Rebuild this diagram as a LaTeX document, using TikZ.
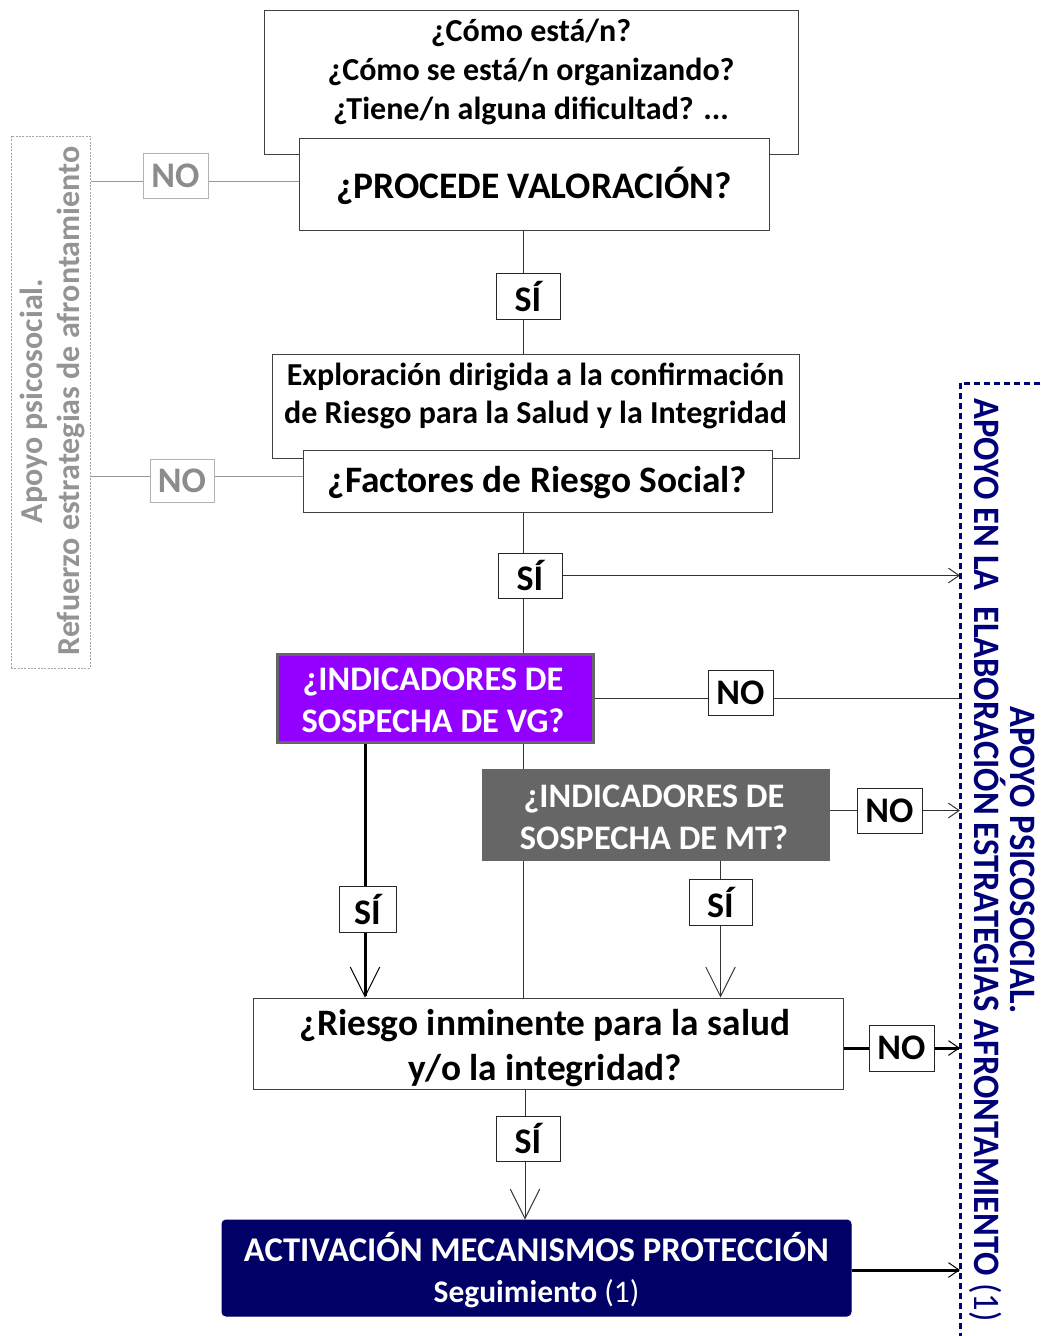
\documentclass[tikz,border=0pt]{standalone}
\usepackage{fontspec}
\setmainfont{Carlito}
\usepackage{graphicx}
\usetikzlibrary{arrows.meta,backgrounds}
\definecolor{navy}{RGB}{0,0,102}
\definecolor{navyt}{RGB}{0,0,120}
\definecolor{vgpurple}{RGB}{148,0,255}
\definecolor{mtgray}{RGB}{102,102,102}
\newcommand\fsz[2]{\fontsize{#1}{#2}\selectfont}
\tikzset{
  sz/.style 2 args={minimum width=#1*0.75pt, minimum height=#2*0.75pt},
  box/.style={draw=black!75, fill=white, line width=0.75pt, inner sep=0pt, font=\bfseries, align=center},
  yn/.style={draw=black!85, fill=white, line width=0.75pt, inner sep=0pt, font=\bfseries\fsz{27}{30}},
  gyn/.style={yn, draw=black!30, text=black!45},
  txt/.style={inner sep=0pt, align=center},
  conn/.style={line width=0.75pt, draw=black!80},
  thickc/.style={line width=2.25pt, draw=black},
  bigarr/.style={-{Straight Barb[length=22pt,width=22pt,line width=0.75pt]}},
  smarr/.style={-{Straight Barb[length=8pt,width=11pt,line width=0.75pt]}},
}
\begin{document}
\begin{tikzpicture}[x=0.75pt,y=-0.75pt]
\useasboundingbox (0,0) rectangle (1040,1336);

% left gray box
\node[draw=black!35, line width=0.75pt, dash pattern=on 1.5pt off 1pt, sz={79}{532}, inner sep=0pt] (lbox) at (50.5,402) {};
\node[txt, rotate=90, text=black!42, font=\bfseries\fsz{24}{27.75}] (ltext) at (52,401) {Apoyo psicosocial.\\Refuerzo estrategias de afrontamiento};

% top boxes
\node[box, sz={534}{144}] (top) at (531,82) {};
\node[txt, font=\bfseries\fsz{24}{29.25}] (topq) at (531,72) {¿Cómo está/n?\\¿Cómo se está/n organizando?\\¿Tiene/n alguna dificultad? ...};
\node[box, sz={470}{92}] (proc) at (534,184) {};
\node[txt, font=\bfseries\fsz{28.1}{30}] (proct) at (534,186) {¿PROCEDE VALORACIÓN?};

\node[gyn, sz={65}{45}] (no1) at (175.5,175.5) {NO};
\node[yn, sz={64}{46}] (si1) at (528,296) {SÍ};

\node[box, sz={527}{104}] (expl) at (535.5,406) {};
\node[txt, font=\bfseries\fsz{24}{28.5}] (explt) at (535.5,396) {Exploración dirigida a la confirmación\\de Riesgo para la Salud y la Integridad};
\node[box, sz={469}{62}] (fact) at (537.5,481) {};
\node[txt, font=\bfseries\fsz{28}{30}] (factt) at (537.5,483) {¿Factores de Riesgo Social?};

\node[gyn, sz={64}{43}] (no2) at (182,480.5) {NO};
\node[yn, sz={64}{45}] (si2) at (530,575.5) {SÍ};

\node[box, sz={316}{88}, fill=vgpurple, draw=mtgray, line width=2.25pt] (vg) at (435,698) {};
\node[txt, text=white, font=\bfseries\fsz{25.8}{31.5}] (vgt) at (433,700) {¿INDICADORES DE\\SOSPECHA DE VG?};
\node[yn, sz={65}{45}] (no3) at (740.5,692.5) {NO};

\node[box, sz={347}{91}, fill=mtgray, draw=mtgray] (mt) at (655.5,814.5) {};
\node[txt, text=white, font=\bfseries\fsz{25.8}{31.5}] (mtt) at (654,817) {¿INDICADORES DE\\SOSPECHA DE MT?};
\node[yn, sz={65}{45}] (no4) at (889.5,810.5) {NO};
\node[yn, sz={63}{46}] (si3) at (720.5,902) {SÍ};
\node[yn, sz={57}{46}] (si4) at (367.5,909) {SÍ};

\node[box, sz={590}{91}] (risk) at (548,1043.5) {};
\node[txt, font=\bfseries\fsz{28}{33.75}] (riskt) at (545,1048) {¿Riesgo inminente para la salud\\y/o la integridad?};
\node[yn, sz={65}{46}] (no5) at (901.5,1048) {NO};
\node[yn, sz={64}{45}] (si5) at (528,1138.5) {SÍ};

\node[box, sz={629}{96}, fill=navy, draw=navy, rounded corners=3pt] (act) at (536.5,1268) {};
\node[txt, text=white, font=\bfseries\fsz{26}{30.75}] (actt) at (536.5,1270) {ACTIVACIÓN MECANISMOS PROTECCIÓN\\\fsz{23.6}{30.75}Seguimiento {\mdseries (1)}};

% right dotted box
\coordinate (rb) at (960,383);
\coordinate (rt) at (1040,383);
\coordinate (rbot) at (960,1336);
\draw[navyt, line width=2.25pt, dash pattern=on 4.5pt off 3pt] (rt) -- (rb) -- (rbot);
\node[txt, rotate=-90, text=navyt, font=\bfseries\fsz{28}{27}] (rtext) at (1002,860) {\scalebox{0.925}[1]{APOYO PSICOSOCIAL.}\\\scalebox{0.925}[1]{APOYO EN LA\ \ ELABORACIÓN ESTRATEGIAS AFRONTAMIENTO {\mdseries (1)}}};

\coordinate (c1) at (523,0);
\coordinate (y181) at (0,181);
\coordinate (y476) at (0,476);
\coordinate (y698) at (0,698);
\coordinate (y1270) at (0,1270);
\coordinate (x365) at (365,0);
\coordinate (x525) at (525,0);
\begin{scope}[on background layer]
  \draw[conn, draw=black!40] (lbox.east |- y181) -- (proc.west |- y181);
  \draw[conn, draw=black!40] (lbox.east |- y476) -- (fact.west |- y476);
  \draw[conn] (c1 |- proc.south) -- (c1 |- expl.north);
  \draw[conn] (c1 |- fact.south) -- (c1 |- risk.north);
  \draw[conn, smarr] (si2.east) -- (rb |- si2.east);
  \draw[conn] (vg.east |- y698) -- (rb |- y698);
  \draw[conn, smarr] (mt.east |- no4) -- (rb |- no4);
  \draw[conn, bigarr] (si3 |- mt.south) -- (si3 |- risk.north);
  \draw[thickc, bigarr] (x365 |- vg.south) -- (x365 |- risk.north);
  \draw[thickc, smarr] (risk.east |- no5) -- (rb |- no5);
  \draw[conn, bigarr] (x525 |- risk.south) -- (x525 |- act.north);
  \draw[thickc, smarr] (act.east |- y1270) -- (rb |- y1270);
\end{scope}
\end{tikzpicture}
\end{document}
